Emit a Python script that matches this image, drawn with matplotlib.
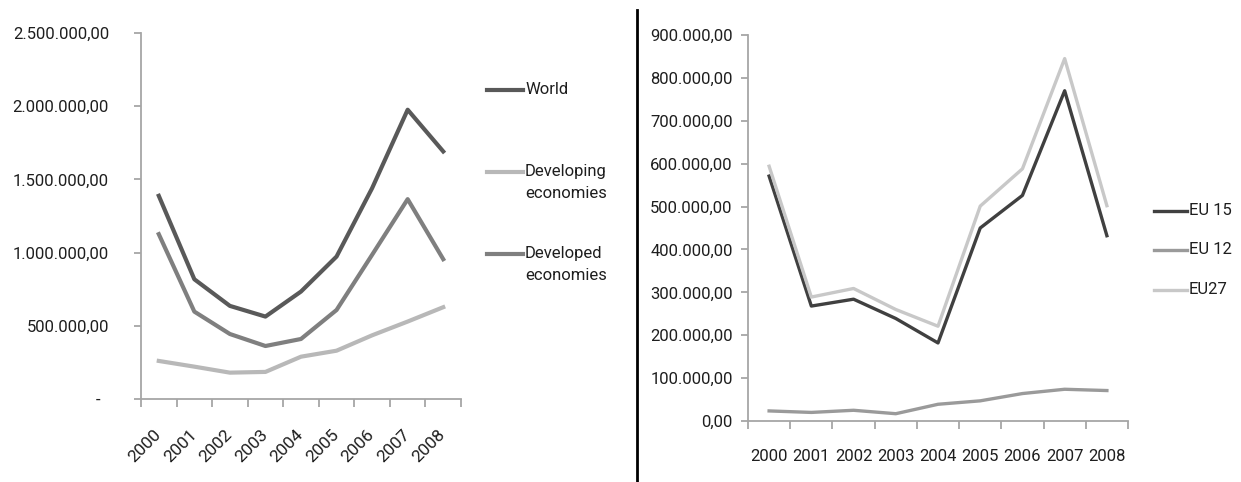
import matplotlib
matplotlib.use('Agg')
import matplotlib.pyplot as plt
from matplotlib.ticker import FixedLocator, FuncFormatter

plt.rcParams['font.family'] = ['Roboto', 'DejaVu Sans']

# ----------------- Data -----------------
years = ['2000', '2001', '2002', '2003', '2004', '2005', '2006', '2007', '2008']

world = [1388000, 818000, 636000, 563000, 734000, 973000, 1440000, 1976000, 1691000]
developing = [260000, 221000, 180000, 185000, 289000, 330000, 435000, 529000, 627000]
developed = [1126000, 597000, 444000, 362000, 410000, 608000, 985000, 1365000, 955000]

eu15 = [571000, 268000, 284000, 239000, 182000, 450000, 526000, 770000, 432000]
eu12 = [23500, 20000, 25000, 17000, 39000, 47000, 64000, 74000, 71000]
eu27 = [594000, 289000, 309000, 260000, 221000, 501000, 588000, 845000, 502000]

left_ticks = [0, 500000, 1000000, 1500000, 2000000, 2500000]
right_ticks = [0, 100000, 200000, 300000, 400000, 500000, 600000, 700000, 800000, 900000]

AXIS_COLOR = '#a6a6a6'
TEXT_COLOR = '#1e1e1e'
W, H = 1241, 482


def euro_fmt(v, dash_zero=False):
    if v == 0 and dash_zero:
        return '-  '
    s = f"{v:,.2f}"
    return s.replace(',', 'X').replace('.', ',').replace('X', '.')


def style_axes(ax, ticks, dash_zero, ylabel_pad):
    x = list(range(len(years)))
    ax.set_xlim(-0.5, len(years) - 0.5)
    ax.set_ylim(ticks[0], ticks[-1])
    for side in ['top', 'right']:
        ax.spines[side].set_visible(False)
    for side in ['left', 'bottom']:
        ax.spines[side].set_color(AXIS_COLOR)
        ax.spines[side].set_linewidth(1.3)
    ax.yaxis.set_major_locator(FixedLocator(ticks))
    ax.yaxis.set_major_formatter(FuncFormatter(lambda v, p: euro_fmt(v, dash_zero)))
    ax.tick_params(axis='y', direction='out', length=5, width=1.3, color=AXIS_COLOR,
                   labelsize=12, labelcolor=TEXT_COLOR, pad=ylabel_pad)
    # category boundaries get the tick marks, labels sit in the middle
    ax.xaxis.set_major_locator(FixedLocator([i - 0.5 for i in range(len(years) + 1)]))
    ax.xaxis.set_major_formatter(FuncFormatter(lambda v, p: ''))
    ax.xaxis.set_minor_locator(FixedLocator(x))
    ax.tick_params(axis='x', which='major', direction='out', length=6, width=1.3, color=AXIS_COLOR)
    ax.tick_params(axis='x', which='minor', length=0, labelsize=12, labelcolor=TEXT_COLOR)
    return x


def legend_entry(line, label, x0, x1, y):
    # hand-made legend entry: key line on the first text line, like the original
    fig.add_artist(plt.Line2D([x0 / W, x1 / W], [1 - y / H, 1 - y / H],
                              transform=fig.transFigure, color=line.get_color(),
                              lw=line.get_linewidth()))
    fig.text((x1 + 2) / W, 1 - (y - 8) / H, label, ha='left', va='top', fontsize=12,
             color=TEXT_COLOR, linespacing=1.55, transform=fig.transFigure)


fig = plt.figure(figsize=(12.41, 4.82), dpi=100)

# ----------------- Left chart -----------------
ax1 = fig.add_axes([141 / W, 83 / H, 320 / W, 366 / H])
x = style_axes(ax1, left_ticks, True, 18)
l_world, = ax1.plot(x, world, color='#595959', lw=3.0)
l_dev, = ax1.plot(x, developing, color='#b8b8b8', lw=3.0)
l_dvd, = ax1.plot(x, developed, color='#7f7f7f', lw=3.0)
ax1.set_xticks(x, years, minor=True)
for lab in ax1.get_xticklabels(minor=True):
    lab.set_rotation(45)
    lab.set_ha('right')
    lab.set_va('center')
    lab.set_rotation_mode('anchor')
    lab.set_fontsize(12.5)
ax1.tick_params(axis='x', which='minor', pad=24)

legend_entry(l_world, 'World', 487, 523, 90)
legend_entry(l_dev, 'Developing\neconomies', 487, 523, 172)
legend_entry(l_dvd, 'Developed\neconomies', 487, 523, 254)

# ----------------- Right chart -----------------
ax2 = fig.add_axes([748 / W, 61 / H, 380 / W, 386 / H])
x = style_axes(ax2, right_ticks, False, 6)
r15, = ax2.plot(x, eu15, color='#404040', lw=2.4)
r12, = ax2.plot(x, eu12, color='#9a9a9a', lw=2.4)
r27, = ax2.plot(x, eu27, color='#c8c8c8', lw=2.4)
ax2.set_xticks(x, years, minor=True)
ax2.tick_params(axis='x', which='minor', pad=20)

legend_entry(r15, 'EU 15', 1154, 1187, 211)
legend_entry(r12, 'EU 12', 1154, 1187, 250)
legend_entry(r27, 'EU27', 1154, 1187, 290)

# divider between the two charts
fig.add_artist(plt.Line2D([637 / W, 637 / W], [0, 1 - 10 / H],
                          transform=fig.transFigure, color='black', lw=2))

fig.savefig('out.png', dpi=100)
